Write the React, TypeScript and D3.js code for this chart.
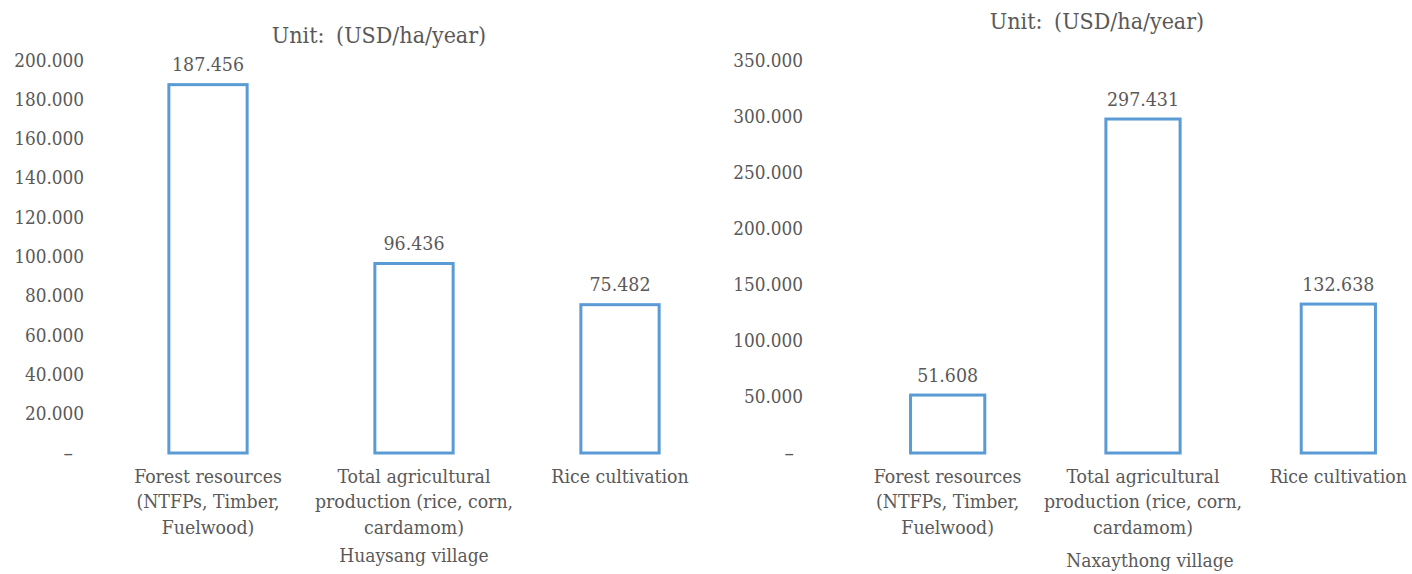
import React from "react";
import * as d3 from "d3";

const leftCategories: string[][] = [
  ["Forest resources", "(NTFPs, Timber,", "Fuelwood)"],
  ["Total agricultural", "production (rice, corn,", "cardamom)"],
  ["Rice cultivation"],
];
const rightCategories: string[][] = [
  ["Forest resources", "(NTFPs, Timber,", "Fuelwood)"],
  ["Total agricultural", "production (rice, corn,", "cardamom)"],
  ["Rice cultivation"],
];
const leftValues = [187.456, 96.436, 75.482];
const rightValues = [51.608, 297.431, 132.638];
const leftTicks = [0, 20, 40, 60, 80, 100, 120, 140, 160, 180, 200];
const rightTicks = [0, 50, 100, 150, 200, 250, 300, 350];
const unitTitle = "Unit: (USD/ha/year)";
const leftVillage = "Huaysang village";
const rightVillage = "Naxaythong village";

const FONT = "'DejaVu Serif', serif";
const TEXT = "#595959";
const BAR = "#5B9BD5";

type PanelProps = {
  cats: string[][];
  values: number[];
  ticks: number[];
  yMax: number;
  x0: number;
  x1: number;
  tickX: number;
  dashX: number;
  unitX: number;
  unitY: number;
  village: string;
  villageX: number;
  villageY: number;
};

function Panel(p: PanelProps) {
  const y = d3.scaleLinear().domain([0, p.yMax]).range([453, 60]);
  const x = d3
    .scaleBand<number>()
    .domain(p.values.map((_, i) => i))
    .range([p.x0, p.x1])
    .padding(0);
  const bw = x.bandwidth() * 0.38;
  const fmt = d3.format(".3f");
  return (
    <g fontFamily={FONT} fill={TEXT} style={{ fontStretch: "condensed" }}>
      <text
        x={p.unitX}
        y={p.unitY}
        dy="0.35em"
        textAnchor="middle"
        fontSize={23}
        style={{ wordSpacing: "5px" }}
      >
        {unitTitle}
      </text>
      {p.ticks.map((t) => (
        <text
          key={t}
          x={t === 0 ? p.dashX : p.tickX}
          y={y(t)}
          dy="0.35em"
          textAnchor="end"
          fontSize={t === 0 ? 21 : 18.8}
        >
          {t === 0 ? "–" : fmt(t)}
        </text>
      ))}
      {p.values.map((v, i) => {
        const cx = (x(i) as number) + x.bandwidth() / 2;
        return (
          <g key={i}>
            <rect
              x={cx - bw / 2}
              y={y(v)}
              width={bw}
              height={y(0) - y(v)}
              fill="#ffffff"
              stroke={BAR}
              strokeWidth={3}
            />
            <text x={cx} y={y(v) - 20} dy="0.35em" textAnchor="middle" fontSize={19.4}>
              {fmt(v)}
            </text>
            {p.cats[i].map((line, j) => (
              <text
                key={j}
                x={cx}
                y={476 + j * 25.5}
                dy="0.35em"
                textAnchor="middle"
                fontSize={19.3}
              >
                {line}
              </text>
            ))}
          </g>
        );
      })}
      <text x={p.villageX} y={p.villageY} dy="0.35em" textAnchor="middle" fontSize={19}>
        {p.village}
      </text>
    </g>
  );
}

export default function App() {
  return (
    <div style={{ position: "fixed", left: 0, top: 0 }}>
      <svg width={1412} height={574} style={{ display: "block", background: "#fff" }}>
        <rect width={1412} height={574} fill="#fff" />
        <Panel
          cats={leftCategories}
          values={leftValues}
          ticks={leftTicks}
          yMax={200}
          x0={105}
          x1={723}
          tickX={84}
          dashX={73}
          unitX={379}
          unitY={35}
          village={leftVillage}
          villageX={414}
          villageY={555}
        />
        <Panel
          cats={rightCategories}
          values={rightValues}
          ticks={rightTicks}
          yMax={350}
          x0={850}
          x1={1436}
          tickX={803}
          dashX={794}
          unitX={1097}
          unitY={21}
          village={rightVillage}
          villageX={1150}
          villageY={560}
        />
      </svg>
    </div>
  );
}
